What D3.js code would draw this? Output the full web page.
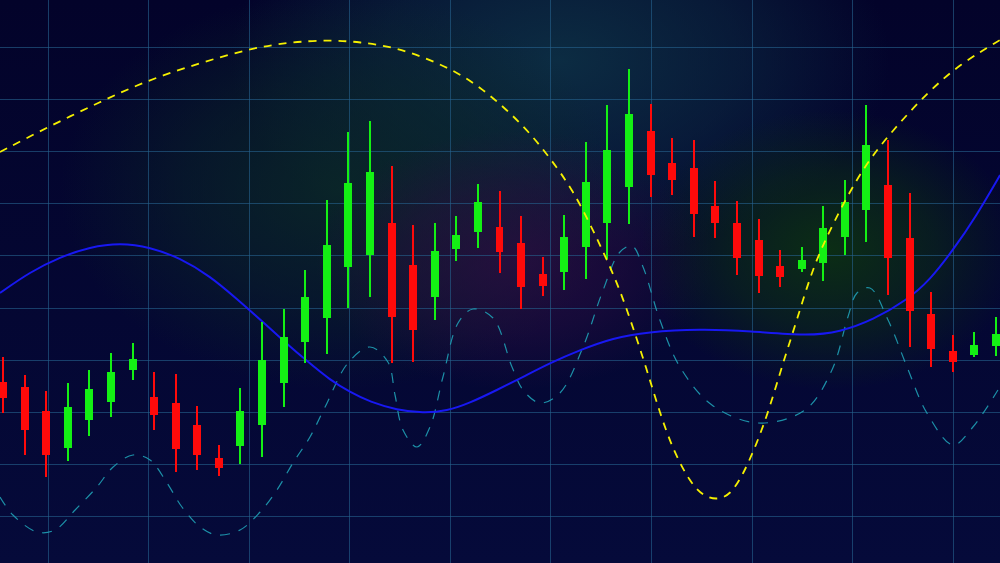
<!DOCTYPE html>
<html>
<head>
<meta charset="utf-8">
<script src="https://cdn.jsdelivr.net/npm/d3@7"></script>
<style>
html,body{margin:0;padding:0;background:#04052e;overflow:hidden;}
svg{display:block;}
</style>
</head>
<body>
<svg id="chart" width="1000" height="563"></svg>
<script>
// ---------------- DATA ----------------
// candle sessions (index along the time axis)
const sessions = [0,1,2,3,4,5,6,7,8,9,10,11,12,13,14,15,16,17,18,19,20,21,22,23,24,25,26,27,28,29,30,31,32,33,34,35,36,37,38,39,40,41,42,43,44,45,46];
const opens  = [18.1,17.6,15.2,11.5,14.3,16.1,19.3,16.6,16.0,13.8,10.5,11.7,13.8,18.0,22.1,24.5,29.6,30.8,34.0,29.8,26.6,31.4,33.1,33.6,32.0,28.9,29.1,31.6,34.0,37.6,43.2,40.0,39.5,35.7,34.0,32.3,29.7,29.4,30.0,32.6,35.3,37.8,32.5,24.9,21.2,20.8,21.7];
const highs  = [20.6,18.8,17.2,18.0,19.3,21.0,22.0,19.1,18.9,15.7,11.8,17.5,24.1,25.4,29.3,36.3,43.1,44.2,39.7,33.8,34.0,34.7,37.9,37.2,34.7,30.6,34.8,42.1,45.8,49.4,45.9,42.5,42.3,38.2,36.2,34.4,31.3,31.6,35.7,38.3,45.8,42.3,37.0,27.1,22.8,23.1,24.6];
const lows   = [15.0,10.8,8.6,10.2,12.7,14.6,18.3,13.3,9.1,9.3,8.7,9.9,10.6,15.6,20.0,20.9,25.5,26.6,20.0,20.1,24.3,30.2,31.5,29.0,25.4,26.7,27.3,28.4,30.4,33.9,36.6,36.8,32.6,32.5,28.8,27.0,27.6,29.1,28.2,30.8,32.1,26.8,21.6,19.6,19.1,20.6,20.7];
const closes = [16.5,13.3,10.8,15.6,17.4,19.1,20.4,14.8,11.4,10.8,9.5,15.2,20.3,22.6,26.6,31.8,38.0,39.1,24.6,23.3,31.2,32.8,36.1,31.1,27.6,27.7,32.6,38.1,41.3,44.9,38.8,38.3,34.9,34.0,30.5,28.7,28.6,30.3,33.5,36.1,41.8,30.5,25.2,21.4,20.1,21.8,22.9];

// indicator curves: [session position, value]
const yellowCurve = [[-0.14,41.1],[2.08,43.6],[4.49,46.1],[6.72,48.3],[9.13,50.0],[11.35,51.4],[13.29,52.1],[15.15,52.3],[16.54,52.1],[18.07,51.6],[19.46,50.6],[20.85,49.3],[22.10,47.6],[23.35,45.3],[24.41,43.0],[25.34,40.5],[26.40,37.3],[27.33,33.3],[27.98,30.3],[28.58,27.3],[29.18,23.6],[29.83,19.3],[30.43,15.0],[31.04,11.3],[31.82,8.1],[32.43,6.7],[33.08,6.3],[33.68,6.8],[34.28,8.8],[34.93,12.0],[35.53,15.6],[36.13,20.0],[36.78,24.3],[37.52,29.6],[38.45,34.0],[39.84,39.6],[41.23,43.3],[42.80,47.0],[44.33,49.9],[46.19,52.3]];
const blueCurve = [[-0.14,27.0],[1.25,29.1],[2.64,30.6],[4.03,31.6],[5.42,32.0],[6.81,31.6],[8.20,30.5],[9.59,28.7],[10.84,26.4],[12.04,24.1],[13.16,21.9],[14.08,20.2],[15.15,18.3],[16.07,17.1],[17.00,16.1],[18.25,15.3],[19.46,15.0],[20.57,15.2],[21.63,16.0],[22.88,17.3],[24.09,18.6],[25.34,20.0],[26.73,21.3],[28.26,22.5],[29.83,23.1],[32.29,23.4],[34.60,23.2],[37.24,22.7],[38.77,23.1],[40.30,24.3],[41.88,26.3],[42.94,28.3],[44.01,31.3],[45.03,34.5],[46.19,38.8]];
const tealCurve = [[-0.14,6.6],[0.46,4.8],[1.58,3.1],[2.41,3.3],[3.34,5.3],[4.35,7.6],[5.10,9.6],[6.02,10.8],[6.81,10.3],[7.60,8.0],[8.29,5.6],[9.13,3.6],[9.91,2.8],[10.98,3.3],[11.91,5.1],[12.69,7.3],[13.43,10.0],[14.22,12.6],[14.92,15.6],[15.98,20.0],[17.00,21.6],[17.83,20.1],[18.16,16.8],[18.53,13.3],[19.18,11.6],[19.78,13.6],[20.38,18.6],[21.08,24.0],[21.77,25.4],[22.70,24.5],[23.58,19.6],[24.09,17.3],[24.88,16.0],[25.80,17.0],[26.87,21.6],[27.75,27.0],[28.58,31.1],[29.14,31.7],[29.65,29.6],[30.43,24.3],[31.36,19.6],[32.84,15.8],[34.97,14.0],[37.15,15.3],[38.40,19.3],[39.14,24.6],[39.56,27.0],[40.16,27.5],[41.00,24.3],[41.88,19.6],[42.80,15.0],[44.01,11.8],[44.93,13.6],[46.09,17.3]];

// grid line values (ticks)
const priceGrid = [4.7,9.9,15.1,20.3,25.5,30.8,36.0,41.2,46.4,51.6];
const timeGrid  = [2.08,6.74,11.40,16.05,20.71,25.36,30.02,34.68,39.33,43.99];

// ---------------- CHART ----------------
const W = 1000, H = 563;
const svg = d3.select("#chart");
const x = d3.scaleLinear().domain([0, 46]).range([3, 996]);
const y = d3.scaleLinear().domain([0, 56.3]).range([H, 0]);

const defs = svg.append("defs");
const bg = defs.append("linearGradient").attr("id","bg").attr("x1",0).attr("y1",0).attr("x2",0).attr("y2",1);
bg.append("stop").attr("offset","0%").attr("stop-color","#03032a");
bg.append("stop").attr("offset","100%").attr("stop-color","#050a3a");

function glow(id, color, op){
  const g = defs.append("radialGradient").attr("id", id);
  g.append("stop").attr("offset","0%").attr("stop-color",color).attr("stop-opacity",op);
  g.append("stop").attr("offset","55%").attr("stop-color",color).attr("stop-opacity",op*0.55);
  g.append("stop").attr("offset","100%").attr("stop-color",color).attr("stop-opacity",0);
}
glow("gTeal", "#0e3648", 0.8);
glow("gGreenTeal", "#0b2c26", 0.8);
glow("gPurple", "#2e0f42", 0.75);
glow("gGreen", "#0d3410", 0.85);

svg.append("rect").attr("width",W).attr("height",H).attr("fill","url(#bg)");
const glows = [
  {cx:560, cy:60,  rx:330, ry:200, id:"gTeal"},
  {cx:340, cy:190, rx:280, ry:200, id:"gGreenTeal"},
  {cx:515, cy:260, rx:200, ry:130, id:"gPurple"},
  {cx:830, cy:250, rx:190, ry:140, id:"gGreen"}
];
svg.selectAll("ellipse.glow").data(glows).join("ellipse").attr("class","glow")
  .attr("cx",d=>d.cx).attr("cy",d=>d.cy).attr("rx",d=>d.rx).attr("ry",d=>d.ry)
  .attr("fill",d=>`url(#${d.id})`);

// grid via axes
const gridY = svg.append("g")
  .call(d3.axisLeft(y).tickValues(priceGrid).tickSize(-W).tickFormat(""));
const gridX = svg.append("g").attr("transform",`translate(0,${H})`)
  .call(d3.axisBottom(x).tickValues(timeGrid).tickSize(-H).tickFormat(""));
[gridY, gridX].forEach(g=>{
  g.select(".domain").remove();
  g.selectAll(".tick line").attr("stroke","#25618c").attr("stroke-opacity",0.62).attr("stroke-width",1).attr("shape-rendering","crispEdges");
});

// clip
defs.append("clipPath").attr("id","clip").append("rect").attr("width",W).attr("height",H);
const plot = svg.append("g").attr("clip-path","url(#clip)");

const sharpLine = d3.line().x(d=>x(d[0])).y(d=>y(d[1])).curve(d3.curveCatmullRom.alpha(0.5));
const smoothLine = d3.line().x(d=>x(d[0])).y(d=>y(d[1])).curve(d3.curveBasis);

// teal dashed curve
plot.append("path").datum(tealCurve).attr("d",sharpLine)
  .attr("fill","none").attr("stroke","#1f9fb4").attr("stroke-width",1.2)
  .attr("stroke-dasharray","10,9").attr("stroke-opacity",0.9);

// blue solid curve
plot.append("path").datum(blueCurve).attr("d",smoothLine)
  .attr("fill","none").attr("stroke","#1818f2").attr("stroke-width",2);

// candles
const candles = sessions.map((s,i)=>({s, o:opens[i], h:highs[i], l:lows[i], c:closes[i]}));
const bodyW = (x(1)-x(0))*0.37;
const cg = plot.selectAll("g.candle").data(candles).join("g").attr("class","candle");
const col = d => d.c >= d.o ? "#14f014" : "#ff0a0a";
cg.append("rect")
  .attr("x", d=>x(d.s)-1).attr("width",2)
  .attr("y", d=>y(d.h)).attr("height", d=>y(d.l)-y(d.h))
  .attr("fill", col).attr("shape-rendering","crispEdges");
cg.append("rect")
  .attr("x", d=>x(d.s)-bodyW/2).attr("width",bodyW)
  .attr("y", d=>y(Math.max(d.o,d.c))).attr("height", d=>Math.max(1,Math.abs(y(d.o)-y(d.c))))
  .attr("fill", col).attr("shape-rendering","crispEdges");

// yellow dashed curve on top
plot.append("path").datum(yellowCurve).attr("d",smoothLine)
  .attr("fill","none").attr("stroke","#f5f000").attr("stroke-width",1.8)
  .attr("stroke-dasharray","8,7");
</script>
</body>
</html>
